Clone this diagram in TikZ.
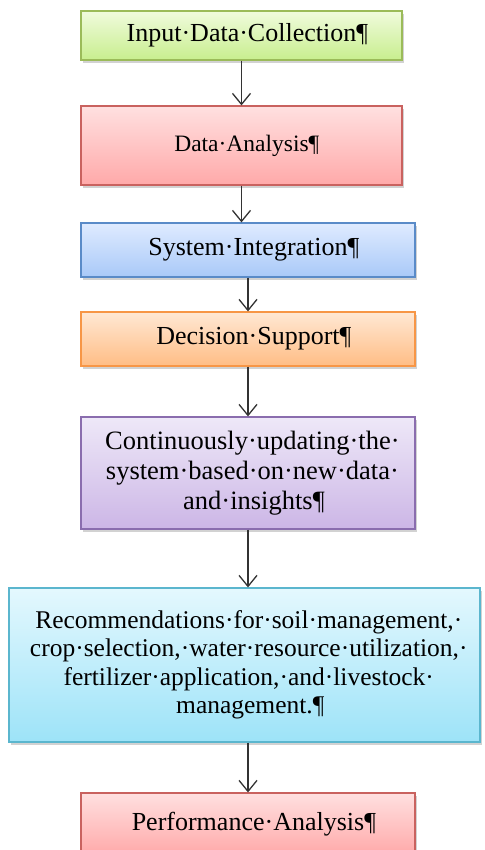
\documentclass[tikz,border=0pt]{standalone}
\usepackage{fontspec}
\setmainfont{Liberation Serif}
\usetikzlibrary{arrows.meta, shadows}

\newcommand{\parmark}{\rlap{¶}}
\newcommand{\trailspace}{\rlap{·}}

\definecolor{greenline}{HTML}{9BBB59}
\definecolor{greentop}{HTML}{F0FBDD}
\definecolor{greenbot}{HTML}{C8EE8E}
\definecolor{redline}{HTML}{C9625F}
\definecolor{redtop}{HTML}{FFE0E0}
\definecolor{redbot}{HTML}{FFA9A9}
\definecolor{blueline}{HTML}{5A8BC8}
\definecolor{bluetop}{HTML}{DFEBFF}
\definecolor{bluebot}{HTML}{A9C9F8}
\definecolor{orangeline}{HTML}{F79646}
\definecolor{orangetop}{HTML}{FFE8D4}
\definecolor{orangebot}{HTML}{FFBD85}
\definecolor{purpleline}{HTML}{8A6DAE}
\definecolor{purpletop}{HTML}{EEE8F8}
\definecolor{purplebot}{HTML}{CCB6E6}
\definecolor{cyanline}{HTML}{5BB6CE}
\definecolor{cyantop}{HTML}{E4F8FE}
\definecolor{cyanbot}{HTML}{9DE3F8}

\tikzset{
  flowbox/.style={draw, rectangle, line width=1.2pt, align=center, inner sep=0pt,
    font=\fontsize{26}{30}\selectfont,
    drop shadow={shadow xshift=2pt, shadow yshift=-3pt, opacity=0.25, fill=black!70}},
  greenbox/.style={draw=greenline, top color=greentop, bottom color=greenbot},
  redbox/.style={draw=redline, top color=redtop, bottom color=redbot},
  bluebox/.style={draw=blueline, top color=bluetop, bottom color=bluebot},
  orangebox/.style={draw=orangeline, top color=orangetop, bottom color=orangebot},
  purplebox/.style={draw=purpleline, top color=purpletop, bottom color=purplebot},
  cyanbox/.style={draw=cyanline, top color=cyantop, bottom color=cyanbot},
  link/.style={-{Straight Barb[length=11pt,width=18pt]}, line width=1.3pt, draw=black!80}
}

\begin{document}
\begin{tikzpicture}[x=1pt, y=-1pt]
  \useasboundingbox (0,0) rectangle (484,850);
  % boxes
  \node[flowbox, greenbox, minimum width=321pt, minimum height=49pt] (input) at (241.5,35.5) {Input·Data·Collection\parmark};
  \node[flowbox, redbox, minimum width=321pt, minimum height=79pt,
        font=\fontsize{23.5}{27}\selectfont] (analysis) at (241.5,145.5) {Data·Analysis\parmark};
  \node[flowbox, bluebox, minimum width=334pt, minimum height=54pt] (integration) at (248,250) {System·Integration\parmark};
  \node[flowbox, orangebox, minimum width=334pt, minimum height=54pt] (decision) at (248,339) {Decision·Support\parmark};
  \node[flowbox, purplebox, minimum width=334pt, minimum height=112pt,
        font=\fontsize{26.5}{30}\selectfont] (updating) at (248,473)
    {Continuously·updating·the\trailspace\\system·based·on·new·data\trailspace\\and·insights\parmark};
  \node[flowbox, cyanbox, minimum width=471pt, minimum height=154pt,
        font=\fontsize{25.5}{28.5}\selectfont] (recommend) at (244.5,665)
    {Recommendations·for·soil·management,\trailspace\\crop·selection,·water·resource·utilization,\trailspace\\fertilizer·application,·and·livestock\trailspace\\management.\parmark};
  \node[flowbox, redbox, minimum width=334pt, minimum height=62pt] (performance) at (248,824) {Performance·Analysis\parmark};
  % connectors
  \draw[link] (input) -- (analysis);
  \draw[link] (analysis.south) -- (analysis.south |- integration.north);
  \draw[link] (integration) -- (decision);
  \draw[link] (decision) -- (updating);
  \draw[link] (updating.south) -- (updating.south |- recommend.north);
  \draw[link] (recommend.south -| performance.north) -- (performance.north);
\end{tikzpicture}
\end{document}
